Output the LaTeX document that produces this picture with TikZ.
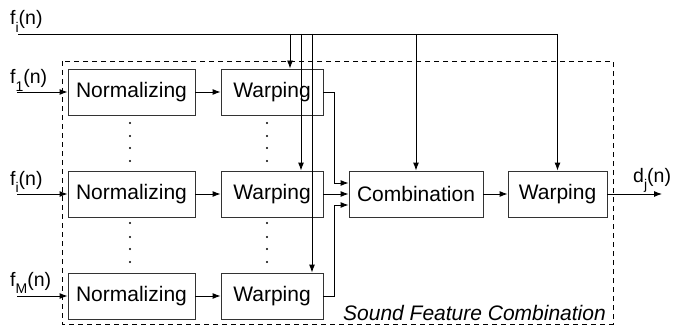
\documentclass[tikz,border=0pt]{standalone}
\usepackage{fontspec}
\setmainfont{Liberation Sans}
\usetikzlibrary{arrows.meta,calc}
\newcommand\mysub[1]{\raisebox{-0.4em}{\fontsize{14}{14}\selectfont #1}}
\begin{document}
\begin{tikzpicture}[x=1pt,y=-1pt,
  blk/.style={draw=black!80,line width=0.9pt,minimum height=46pt,inner sep=0pt,font=\fontsize{21}{24}\selectfont},
  arr/.style={-{Latex[length=8pt,width=6pt]},line width=0.9pt},
  ln/.style={line width=0.9pt},
  lbl/.style={font=\fontsize{19.5}{22}\selectfont,inner sep=0pt,anchor=base west},
  dotn/.style={circle,fill=black,inner sep=0pt,minimum size=2.4pt}
]
\useasboundingbox (0,0) rectangle (676,326);
\draw[dash pattern=on 5pt off 4pt, line width=0.9pt] (62,61) rectangle (613,324);

% blocks
\node[blk,minimum width=127pt] (n1) at (131.5,92) {Normalizing};
\node[blk,minimum width=127pt] (n2) at (131.5,194) {Normalizing};
\node[blk,minimum width=127pt] (n3) at (131.5,296) {Normalizing};
\node[blk,minimum width=102pt] (w1) at (272,92) {Warping};
\node[blk,minimum width=102pt] (w2) at (272,194) {Warping};
\node[blk,minimum width=102pt] (w3) at (272,296) {Warping};
\node[blk,minimum width=134pt] (c) at (416,194) {Combination};
\node[blk,minimum width=99pt] (wf) at (557.5,194) {Warping};

% dots
\foreach \yy [count=\k] in {123,136,148,161,223,237,249,262}{
  \node[dotn] (dl\k) at (130,\yy) {};
  \node[dotn] (dr\k) at (267,\yy) {};
}

% top f_i(n) line and drops
\node[lbl] (lt) at (10,25) {f\mysub{i}(n)};
\coordinate (ts) at (18,34);
\coordinate (te) at (wf.north |- ts);
\draw[ln] (ts) -- (te);
\coordinate (d1) at (290,34);
\coordinate (d2) at (301,34);
\coordinate (d3) at (312,34);
\draw[arr] (d1) -- (d1 |- w1.north);
\draw[arr] (d2) -- (d2 |- w2.north);
\draw[arr] (d3) -- (d3 |- w3.north);
\draw[arr] (c.north |- ts) -- (c.north);
\draw[arr] (te) -- (wf.north);

% inputs
\node[lbl] (l1) at (10,84) {f\mysub{1}(n)};
\node[lbl] (l2) at (10,185) {f\mysub{i}(n)};
\node[lbl] (l3) at (10,286) {f\mysub{M}(n)};
\coordinate (i1) at (17,92);
\coordinate (i2) at (17,194);
\coordinate (i3) at (17,296);
\draw[arr] (i1) -- (n1.west);
\draw[arr] (i2) -- (n2.west);
\draw[arr] (i3) -- (n3.west);

% chain
\draw[arr] (n1) -- (w1);
\draw[arr] (n2) -- (w2);
\draw[arr] (n3) -- (w3);
\draw[arr] (w1.east) -- ++(11,0) |- ([yshift=11pt]c.west);
\draw[arr] (w2) -- (c);
\draw[arr] (w3.east) -- ++(11,0) |- ([yshift=-11pt]c.west);
\draw[arr] (c) -- (wf);
\coordinate (o) at (662,194);
\draw[arr] (wf) -- (o);
\node[lbl] (ld) at (633,182) {d\mysub{j}(n)};

\node[font=\fontsize{21}{24}\selectfont\itshape,inner sep=0pt,anchor=base east] (sfc) at (606,320) {Sound Feature Combination};
\end{tikzpicture}
\end{document}
